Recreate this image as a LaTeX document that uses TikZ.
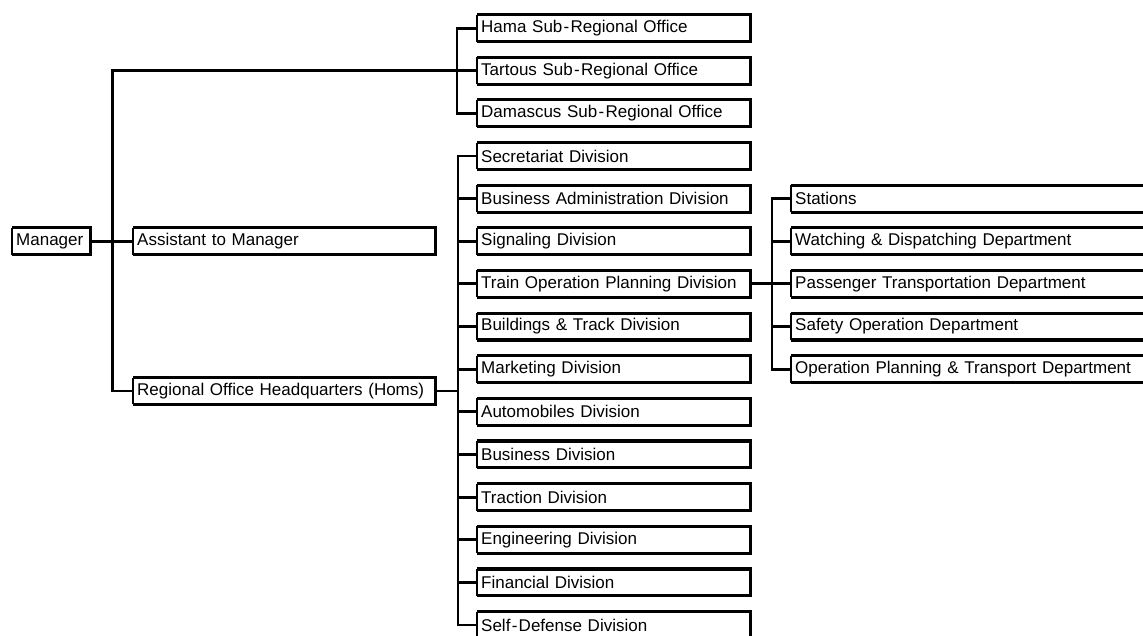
\documentclass[tikz,border=0pt]{standalone}
\usepackage{fontspec}
\setmainfont{Liberation Sans}
\newcommand\hy{\kern1.3pt-\kern1.3pt}
\newcommand\orgbox[5]{%
  \pgfmathsetmacro\tw{#3-8}%
  \node[box, minimum width=#3pt, text width=\tw pt] (#1) at (#2,#4) {#5};%
  \draw[line width=1.5pt] (#1.north west) -- (#1.south west);%
  \draw[line width=3.1pt, line join=miter] (#1.north west) -- (#1.north east) -- (#1.south east) -- (#1.south west);%
}
\begin{document}
\begin{tikzpicture}[x=1pt,y=-1pt,
  box/.style={rectangle, inner xsep=4pt, inner ysep=0pt, minimum height=26.5pt,
    anchor=west, font=\fontsize{17}{20}\selectfont, align=left},
  conn/.style={line width=2.9pt, line join=miter}]
\useasboundingbox (0,0) rectangle (1143,636);
\clip (0,0) rectangle (1143,636);
\fill[white] (0,0) rectangle (1143,636);

% left column
\orgbox{man}{12}{78.5}{241.28}{Manager}
\orgbox{asst}{133}{302.5}{241.28}{Assistant to Manager}
\orgbox{reg}{133}{302.5}{391}{Regional Office Headquarters (Homs)}

% sub-regional offices
\orgbox{hama}{477}{273.5}{28.08}{Hama Sub\hy Regional Office}
\orgbox{tart}{477}{273.5}{70.72}{Tartous Sub\hy Regional Office}
\orgbox{dam}{477}{273.5}{113.36}{Damascus Sub\hy Regional Office}

% divisions
\orgbox{d0}{477}{273.5}{156}{Secretariat Division}
\orgbox{d1}{477}{273.5}{198.64}{Business Administration Division}
\orgbox{d2}{477}{273.5}{241.28}{Signaling Division}
\orgbox{d3}{477}{273.5}{283.92}{Train Operation Planning Division}
\orgbox{d4}{477}{273.5}{326.56}{Buildings \& Track Division}
\orgbox{d5}{477}{273.5}{369.2}{Marketing Division}
\orgbox{d6}{477}{273.5}{411.84}{Automobiles Division}
\orgbox{d7}{477}{273.5}{454.48}{Business Division}
\orgbox{d8}{477}{273.5}{497.12}{Traction Division}
\orgbox{d9}{477}{273.5}{539.76}{Engineering Division}
\orgbox{d10}{477}{273.5}{582.4}{Financial Division}
\orgbox{d11}{477}{273.5}{625.04}{Self\hy Defense Division}

% departments
\orgbox{r1}{791}{400}{198.64}{Stations}
\orgbox{r2}{791}{400}{241.28}{Watching \& Dispatching Department}
\orgbox{r3}{791}{400}{283.92}{Passenger Transportation Department}
\orgbox{r4}{791}{400}{326.56}{Safety Operation Department}
\orgbox{r5}{791}{400}{369.2}{Operation Planning \& Transport Department}

% connectors
\coordinate (trunk) at (112.3,241.28);
\draw[conn] (man.east) -- (asst.west);
\draw[conn] (tart.west) -| (trunk) |- (reg.west);

\coordinate (sb) at (457,70.72);
\draw[conn] (hama.west) -| (sb) |- (dam.west);

\coordinate (db) at (458,391);
\draw[conn] (reg.east) -- (db);
\draw[conn] (d0.west) -| (db) |- (d11.west);
\foreach \k in {1,...,10} {\draw[conn] (d\k.west) -- (d\k.west -| db);}

\coordinate (rb) at (772,283.92);
\draw[conn] (d3.east) -- (rb);
\draw[conn] (r1.west) -| (rb) |- (r5.west);
\foreach \k in {2,3,4} {\draw[conn] (r\k.west) -- (r\k.west -| rb);}
\end{tikzpicture}
\end{document}
